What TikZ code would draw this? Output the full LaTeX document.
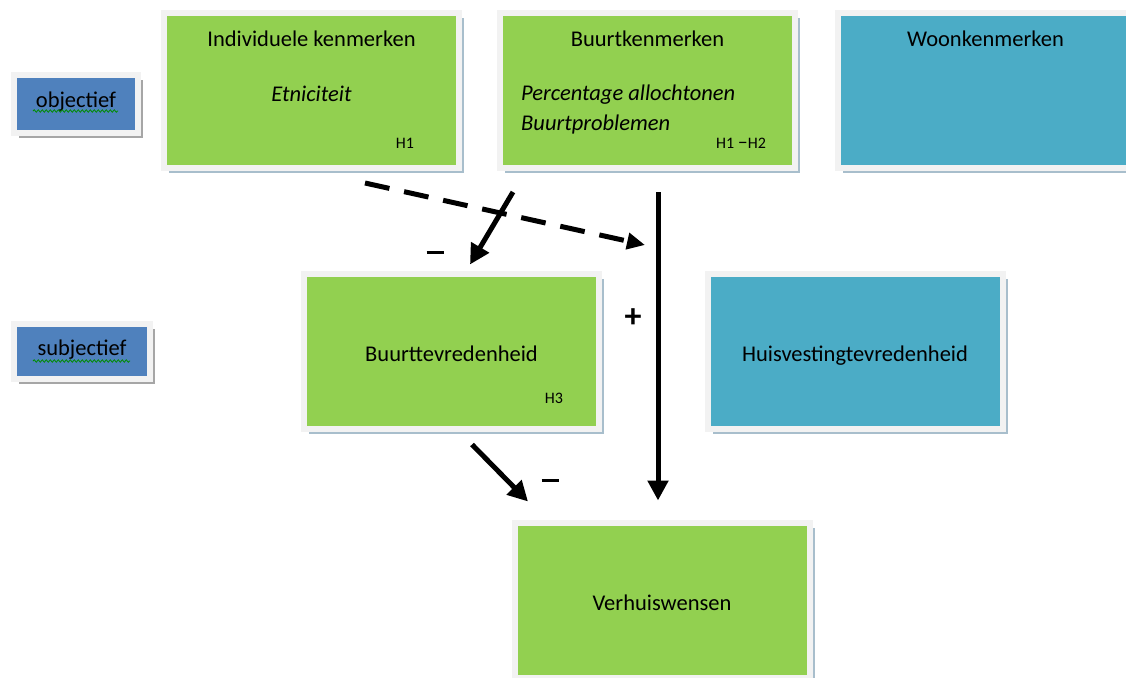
\documentclass[tikz,border=0pt]{standalone}
\usepackage{fontspec}
\setmainfont{Carlito}
\definecolor{LeafGreen}{RGB}{146, 208, 80}
\definecolor{SeaBlue}{RGB}{75, 172, 198}
\definecolor{TagBlue}{RGB}{79, 129, 189}
\definecolor{FrameGrey}{RGB}{242, 242, 242}
\definecolor{ShadeGrey}{RGB}{168, 190, 204}
\usetikzlibrary{arrows.meta, positioning, shadows, decorations.pathmorphing}

\begin{document}
\begin{tikzpicture}[
    x=1pt, y=-1pt,
    every node/.style={font=\fontsize{22.5}{27}\selectfont, inner sep=0pt},
    card/.style={draw=FrameGrey, line width=6pt, fill=LeafGreen, outer sep=0pt,
                 minimum width=295pt, minimum height=155pt,
                 drop shadow={shadow xshift=5pt, shadow yshift=-5pt, fill=ShadeGrey, opacity=1}},
    tag/.style={card, fill=TagBlue, minimum width=124pt, minimum height=58pt,
                drop shadow={shadow xshift=5pt, shadow yshift=-5pt, fill=black!35, opacity=1}},
    note/.style={font=\fontsize{16}{19}\selectfont},
    effect/.style={line width=5pt, -{Triangle[length=20pt, width=20pt]}},
    maybe/.style={line width=5pt, dash pattern=on 25pt off 15pt,
                  -{Triangle[length=18pt, width=16pt]}},
    sign/.style={font=\fontsize{34}{40}\selectfont\bfseries}
]
\clip (0,0) rectangle (1126,677);

% rows
\node[tag] (obj) at (76,104) {};
\node[tag, minimum width=136pt, minimum height=55pt] (subj) at (82,351.5) {};
\node[anchor=base] (objtxt) at (76,107) {objectief};
\node[anchor=base] (subjtxt) at (82,355) {subjectief};
\draw[green!55!black, line width=0.8pt, decorate,
      decoration={snake, segment length=4pt, amplitude=1.2pt}] (33,111) -- (118,111);
\draw[green!55!black, line width=0.8pt, decorate,
      decoration={snake, segment length=4pt, amplitude=1.2pt}] (33,361) -- (130,361);

% top row
\node[card] (indiv) at (311.5,90.5) {};
\node[card] (buurt) at (647.5,90.5) {};
\node[card, fill=SeaBlue] (woon) at (985.5,90.5) {};

\node[anchor=base] (indivtitle) at (311.5,47) {Individuele kenmerken};
\node[anchor=base] (etni) at (311.5,101) {\itshape Etniciteit};
\node[note, anchor=base] (h1) at (405,148) {H1};

\node[anchor=base] (buurttitle) at (647.5,47) {Buurtkenmerken};
\node[anchor=base west] (perc) at (521,100) {\itshape Percentage allochtonen};
\node[anchor=base west] (probl) at (521,130) {\itshape Buurtproblemen};
\node[note, anchor=base] (h12) at (741,148) {H1 {\fontsize{20}{20}\selectfont --}H2};

\node[anchor=base] (woontitle) at (985.5,47) {Woonkenmerken};

% middle row
\node[card] (tevr) at (451.5,351) {};
\node[card, fill=SeaBlue] (huis) at (855,351) {};
\node[anchor=base] (tevrtxt) at (451.5,361) {Buurttevredenheid};
\node[note, anchor=base] (h3) at (554,403) {H3};
\node[anchor=base] (huistxt) at (855,361) {Huisvestingtevredenheid};

% bottom
\node[card] (verh) at (662,600) {};
\node[anchor=base] (verhtxt) at (662,610) {Verhuiswensen};

\coordinate (mod) at (645,245);

\draw[maybe] ([xshift=53.5pt, yshift=-15pt]indiv.south) -- (mod);
\draw[effect] ([xshift=-134.5pt, yshift=-24pt]buurt.south) -- ([xshift=18.5pt, yshift=9pt]tevr.north);
\draw[effect] ([xshift=10.5pt, yshift=-24pt]buurt.south) -- ([xshift=-4pt, yshift=22pt]verh.north);
\draw[effect] ([xshift=20.5pt, yshift=-16pt]tevr.south) -- ([xshift=-134pt, yshift=21pt]verh.north);

\node (min1) at (435,252) {\rule{17pt}{3pt}};
\node[sign] (plus) at (633,318) {+};
\node (min2) at (550,480) {\rule{17pt}{3pt}};
\end{tikzpicture}
\end{document}
